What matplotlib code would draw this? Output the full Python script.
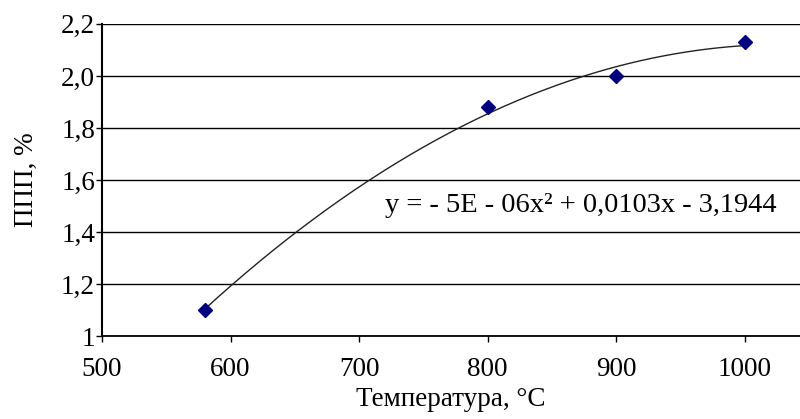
import numpy as np
import matplotlib
matplotlib.use("Agg")
import matplotlib.pyplot as plt
from matplotlib.ticker import FixedLocator, FixedFormatter

plt.rcParams['font.family'] = ['Liberation Serif', 'DejaVu Serif']

temperature = [580, 800, 900, 1000]
ppp = [1.10, 1.88, 2.00, 2.13]
y_ticks = [1.0, 1.2, 1.4, 1.6, 1.8, 2.0, 2.2]
y_tick_labels = ["1", "1,2", "1,4", "1,6", "1,8", "2,0", "2,2"]
x_ticks = [500, 600, 700, 800, 900, 1000]
x_tick_labels = ["500", "600", "700", "800", "900", "1000"]
equation = "y = - 5E - 06x² + 0,0103x - 3,1944"

fig = plt.figure(figsize=(8.0, 4.19), dpi=100)
ax = fig.add_axes([0.1275, 0.198, 0.8725, 0.745])

coef = np.polyfit(temperature, ppp, 2)
xs = np.linspace(min(temperature), max(temperature), 200)
ax.plot(xs, np.polyval(coef, xs), color='#222222', lw=1.0, zorder=3)
ax.plot(temperature, ppp, linestyle='none', marker='D', markersize=7,
        color='#000080', zorder=4)

ax.set_xlim(500, 1043)
ax.set_ylim(1.0, 2.2)
ax.yaxis.set_major_locator(FixedLocator(y_ticks))
ax.yaxis.set_major_formatter(FixedFormatter(y_tick_labels))
ax.xaxis.set_major_locator(FixedLocator(x_ticks))
ax.xaxis.set_major_formatter(FixedFormatter(x_tick_labels))
ax.grid(axis='y', color='black', lw=1.0)
ax.set_axisbelow(True)
for s in ['top', 'right']:
    ax.spines[s].set_visible(False)
ax.spines['left'].set_linewidth(1.5)
ax.spines['bottom'].set_linewidth(1.3)
ax.tick_params(axis='y', direction='out', length=4, width=1, labelsize=19.5, pad=1)
ax.tick_params(axis='x', direction='out', length=4, width=1, labelsize=19.5, pad=11)

ax.text(720, 1.5, equation, fontsize=20.5, ha='left', va='center')
ax.set_xlabel("Температура, °C", fontsize=19.5, labelpad=4)
ax.set_ylabel("ППП, %", fontsize=19.5, labelpad=16)

fig.savefig("out.png", dpi=100)
